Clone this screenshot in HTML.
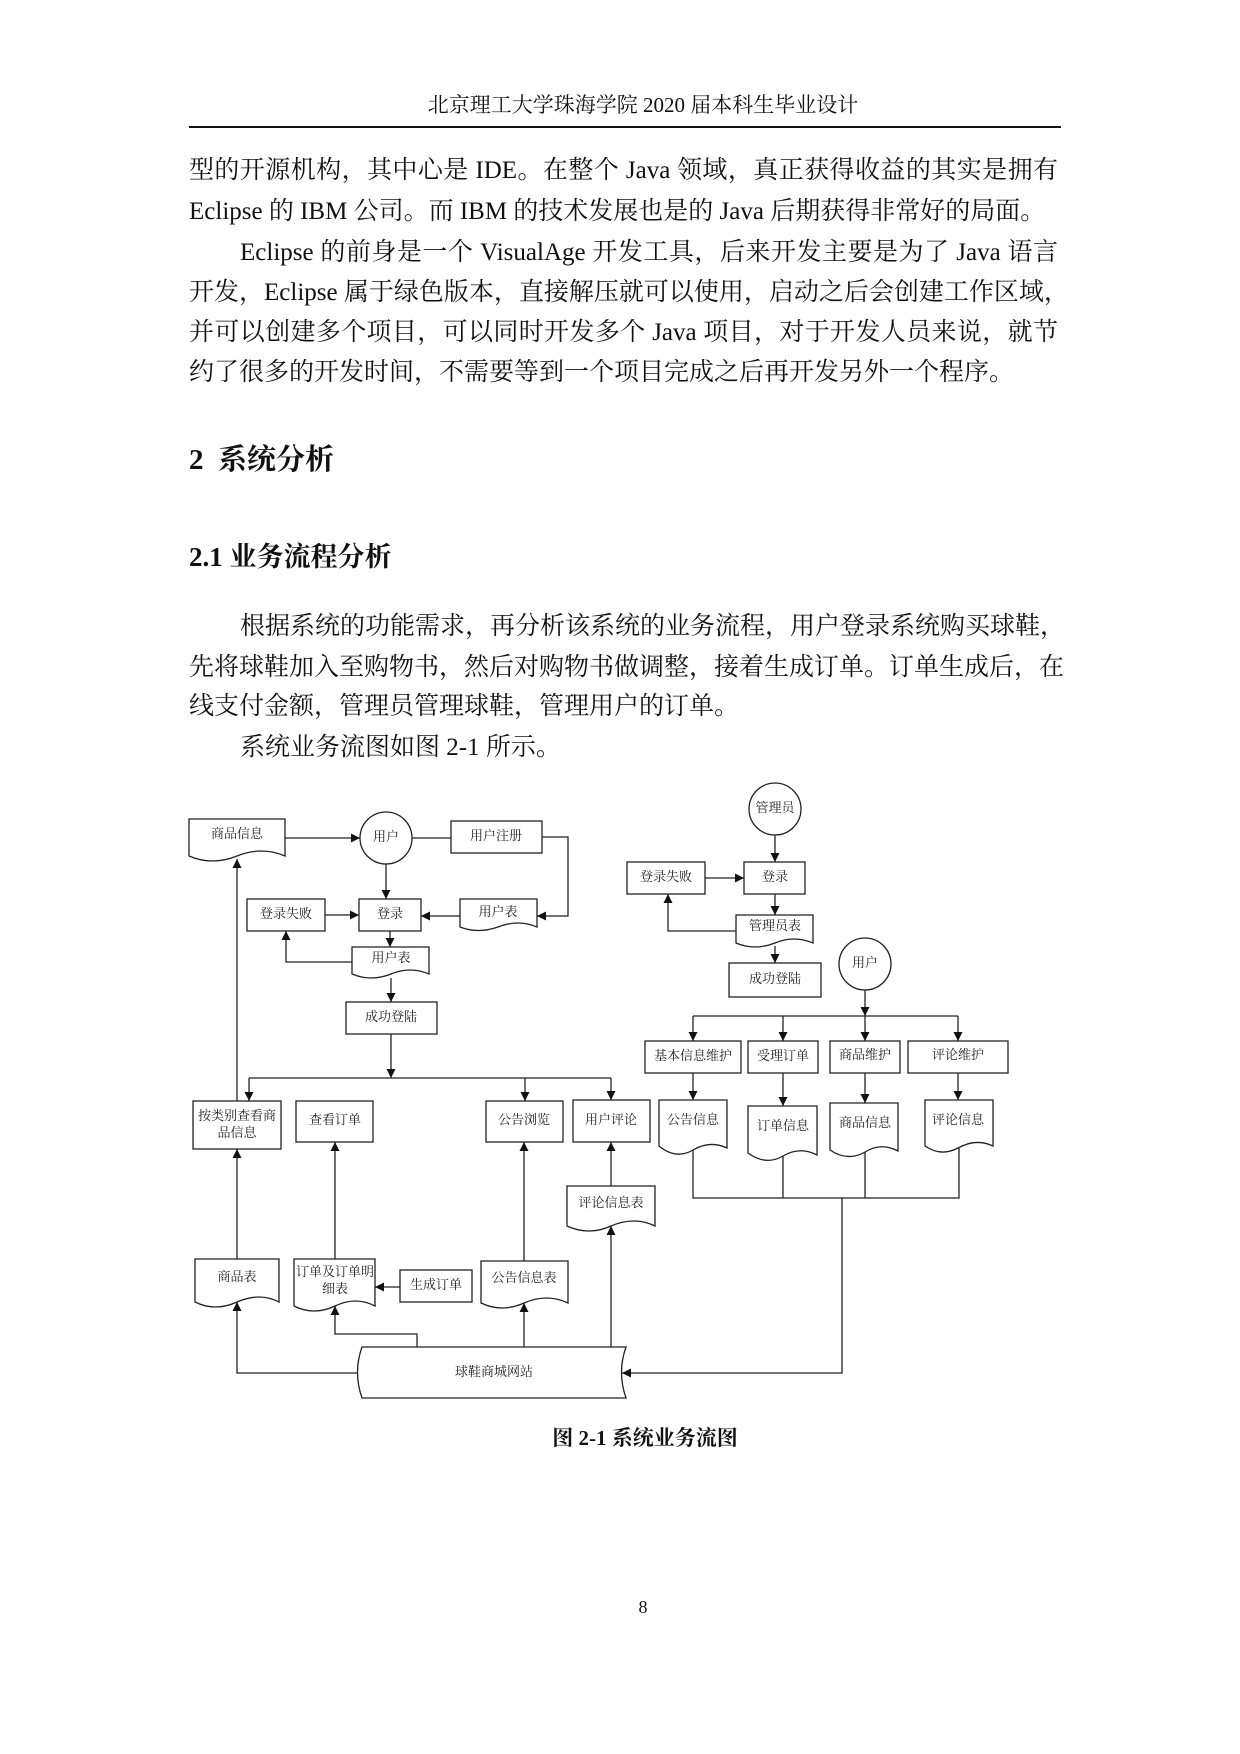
<!DOCTYPE html>
<html><head><meta charset="utf-8"><style>
html,body{margin:0;padding:0;background:#fff}
body{width:1240px;height:1754px;position:relative;overflow:hidden;font-family:"Liberation Serif","Noto Serif CJK SC","Noto Sans CJK SC",serif;color:#111}
.t{position:absolute;white-space:nowrap}
.ln{position:absolute;left:189px;width:869px;font-size:25px;line-height:30px;text-align:justify;text-align-last:justify;white-space:nowrap}
.ln.l{text-align-last:left}
svg text{font-family:"Liberation Serif","Noto Serif CJK SC",serif;font-size:13px;fill:#222;text-anchor:middle;dominant-baseline:middle}
</style></head><body>
<div class="t" style="left:0;width:1286px;text-align:center;top:92px;font-size:21px;line-height:26px">北京理工大学珠海学院 2020 届本科生毕业设计</div>
<div style="position:absolute;left:189px;top:126px;width:872px;height:2px;background:#111"></div>
<div class="ln" style="top:156px">型的开源机构，其中心是 IDE。在整个 Java 领域，真正获得收益的其实是拥有</div>
<div class="ln l" style="top:197px">Eclipse 的 IBM 公司。而 IBM 的技术发展也是的 Java 后期获得非常好的局面。</div>
<div class="ln" style="top:238px;left:240px;width:818px">Eclipse 的前身是一个 VisualAge 开发工具，后来开发主要是为了 Java 语言</div>
<div class="ln" style="top:278px">开发，Eclipse 属于绿色版本，直接解压就可以使用，启动之后会创建工作区域，</div>
<div class="ln" style="top:318px">并可以创建多个项目，可以同时开发多个 Java 项目，对于开发人员来说，就节</div>
<div class="ln l" style="top:358px">约了很多的开发时间，不需要等到一个项目完成之后再开发另外一个程序。</div>
<div class="t" style="left:189px;top:443px;font-size:29px;font-weight:bold;line-height:34px">2&nbsp; 系统分析</div>
<div class="t" style="left:189px;top:541px;font-size:27px;font-weight:bold;line-height:32px">2.1 业务流程分析</div>
<div class="ln" style="top:612px;left:240px;width:818px">根据系统的功能需求，再分析该系统的业务流程，用户登录系统购买球鞋，</div>
<div class="ln" style="top:653px">先将球鞋加入至购物书，然后对购物书做调整，接着生成订单。订单生成后，在</div>
<div class="ln l" style="top:692px">线支付金额，管理员管理球鞋，管理用户的订单。</div>
<div class="ln l" style="top:733px;left:240px">系统业务流图如图 2-1 所示。</div>

<svg width="1240" height="1754" style="position:absolute;left:0;top:0" xmlns="http://www.w3.org/2000/svg">
<defs><marker id="a" viewBox="0 0 10 10" refX="10" refY="5" markerWidth="9" markerHeight="9" markerUnits="userSpaceOnUse" orient="auto"><path d="M0,0 L10,5 L0,10 Z" fill="#111"/></marker></defs>
<g fill="none" stroke="#222" stroke-width="1.3">
<rect x="451" y="821" width="91" height="32"/>
<rect x="359" y="899" width="62" height="32"/>
<rect x="247" y="899" width="78" height="32"/>
<rect x="346" y="1002" width="91" height="32"/>
<rect x="193" y="1101" width="88" height="48"/>
<rect x="296" y="1101" width="77" height="41"/>
<rect x="486" y="1101" width="77" height="41"/>
<rect x="573" y="1100" width="77" height="42"/>
<rect x="400" y="1270" width="72" height="32"/>
<rect x="744" y="862" width="61" height="32"/>
<rect x="627" y="862" width="78" height="32"/>
<rect x="729" y="963" width="92" height="34"/>
<rect x="645" y="1041" width="96" height="32"/>
<rect x="748" y="1041" width="70" height="32"/>
<rect x="830" y="1041" width="70" height="32"/>
<rect x="908" y="1041" width="100" height="32"/>
<circle cx="386" cy="838" r="26"/>
<circle cx="775" cy="809" r="26"/>
<circle cx="865" cy="964" r="26"/>
<path d="M189 819 H285 V856 Q262 846 237 856 Q212 866 189 856 Z"/>
<path d="M460 899 H537 V927 Q518 919 498 927 Q478 934 460 927 Z"/>
<path d="M352 947 H429 V974 Q410 966 391 974 Q371 982 352 974 Z"/>
<path d="M736 915 H813 V943 Q794 935 775 943 Q755 951 736 943 Z"/>
<path d="M659 1100 H727 V1148 Q710 1140 693 1150 Q676 1160 659 1146 Z"/>
<path d="M748 1106 H817 V1155 Q800 1146 783 1156 Q766 1166 748 1153 Z"/>
<path d="M830 1103 H898 V1151 Q881 1142 865 1152 Q848 1162 830 1150 Z"/>
<path d="M925 1100 H993 V1146 Q976 1138 958 1148 Q941 1157 925 1146 Z"/>
<path d="M567 1186 H655 V1226 Q634 1216 611 1226 Q589 1236 567 1226 Z"/>
<path d="M195 1259 H279 V1302 Q260 1292 237 1302 Q215 1312 195 1302 Z"/>
<path d="M294 1259 H375 V1306 Q356 1296 335 1306 Q314 1316 294 1306 Z"/>
<path d="M481 1261 H568 V1303 Q547 1293 524 1303 Q502 1313 481 1303 Z"/>
<path d="M362 1347 H626 Q617 1372 626 1398 H362 Q353 1372 362 1347 Z"/>
<path d="M285 838 H360" marker-end="url(#a)"/>
<path d="M412 838 H451"/>
<path d="M542 837 H568 V916 H537" marker-end="url(#a)"/>
<path d="M460 916 H421" marker-end="url(#a)"/>
<path d="M386 864 V899" marker-end="url(#a)"/>
<path d="M325 915 H359" marker-end="url(#a)"/>
<path d="M390 931 V947" marker-end="url(#a)"/>
<path d="M352 962 H286 V931" marker-end="url(#a)"/>
<path d="M391 978 V1002" marker-end="url(#a)"/>
<path d="M391 1034 V1078" marker-end="url(#a)"/>
<path d="M249 1078 H611"/>
<path d="M249 1078 V1101" marker-end="url(#a)"/>
<path d="M525 1078 V1101" marker-end="url(#a)"/>
<path d="M611 1078 V1100" marker-end="url(#a)"/>
<path d="M237 1101 V859" marker-end="url(#a)"/>
<path d="M237 1259 V1149" marker-end="url(#a)"/>
<path d="M335 1259 V1142" marker-end="url(#a)"/>
<path d="M524 1261 V1142" marker-end="url(#a)"/>
<path d="M611 1186 V1142" marker-end="url(#a)"/>
<path d="M400 1287 H375" marker-end="url(#a)"/>
<path d="M358 1373 H237 V1302" marker-end="url(#a)"/>
<path d="M417 1347 V1334 H335 V1306" marker-end="url(#a)"/>
<path d="M524 1347 V1303" marker-end="url(#a)"/>
<path d="M611 1347 V1226" marker-end="url(#a)"/>
<path d="M842 1198 V1373 H622" marker-end="url(#a)"/>
<path d="M775 835 V862" marker-end="url(#a)"/>
<path d="M705 878 H744" marker-end="url(#a)"/>
<path d="M775 894 V915" marker-end="url(#a)"/>
<path d="M736 931 H668 V894" marker-end="url(#a)"/>
<path d="M775 946 V963" marker-end="url(#a)"/>
<path d="M865 990 V1016" marker-end="url(#a)"/>
<path d="M693 1016 H958"/>
<path d="M693 1016 V1041" marker-end="url(#a)"/>
<path d="M783 1016 V1041" marker-end="url(#a)"/>
<path d="M865 1016 V1041" marker-end="url(#a)"/>
<path d="M958 1016 V1041" marker-end="url(#a)"/>
<path d="M693 1073 V1100" marker-end="url(#a)"/>
<path d="M783 1073 V1106" marker-end="url(#a)"/>
<path d="M865 1073 V1103" marker-end="url(#a)"/>
<path d="M958 1073 V1100" marker-end="url(#a)"/>
<path d="M693 1150 V1198 H959 V1148 M783 1156 V1198 M865 1152 V1198"/>
</g>
<g>
<text x="237" y="835">商品信息</text>
<text x="386" y="838">用户</text>
<text x="496" y="837">用户注册</text>
<text x="498" y="913">用户表</text>
<text x="390" y="915">登录</text>
<text x="286" y="915">登录失败</text>
<text x="391" y="959">用户表</text>
<text x="391" y="1018">成功登陆</text>
<text x="237" y="1117">按类别查看商</text>
<text x="237" y="1134">品信息</text>
<text x="335" y="1121">查看订单</text>
<text x="524" y="1121">公告浏览</text>
<text x="611" y="1121">用户评论</text>
<text x="611" y="1204">评论信息表</text>
<text x="237" y="1278">商品表</text>
<text x="335" y="1273">订单及订单明</text>
<text x="335" y="1290">细表</text>
<text x="436" y="1286">生成订单</text>
<text x="524" y="1279">公告信息表</text>
<text x="494" y="1373">球鞋商城网站</text>
<text x="775" y="809">管理员</text>
<text x="775" y="878">登录</text>
<text x="666" y="878">登录失败</text>
<text x="775" y="927">管理员表</text>
<text x="775" y="980">成功登陆</text>
<text x="865" y="964">用户</text>
<text x="693" y="1057">基本信息维护</text>
<text x="783" y="1057">受理订单</text>
<text x="865" y="1056">商品维护</text>
<text x="958" y="1056">评论维护</text>
<text x="693" y="1121">公告信息</text>
<text x="783" y="1127">订单信息</text>
<text x="865" y="1124">商品信息</text>
<text x="958" y="1121">评论信息</text>
</g>
</svg>
<div class="t" style="left:0;width:1290px;text-align:center;top:1425px;font-size:21px;font-weight:bold;line-height:26px">图 2-1 系统业务流图</div>
<div class="t" style="left:0;width:1286px;text-align:center;top:1596px;font-size:18px;line-height:22px">8</div>
</body></html>
